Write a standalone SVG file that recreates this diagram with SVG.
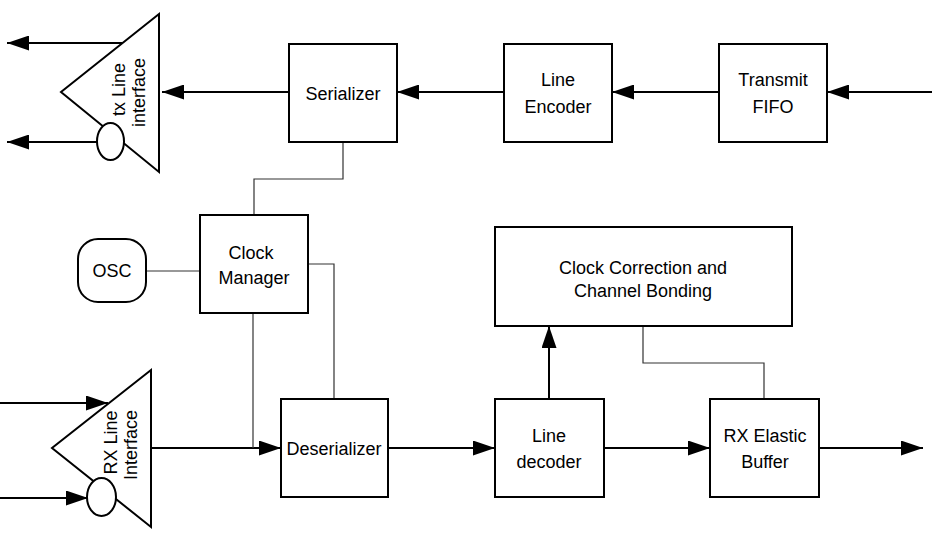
<svg xmlns="http://www.w3.org/2000/svg" width="932" height="534" viewBox="0 0 932 534">
<style>
.box{fill:#fff;stroke:#000;stroke-width:2}
.tri{fill:#fff;stroke:#000;stroke-width:2;stroke-linejoin:miter}
.arr{fill:none;stroke:#000;stroke-width:2;marker-end:url(#ah)}
.thin{fill:none;stroke:#333;stroke-width:1.2}
text{font-family:"Liberation Sans",Arial,sans-serif;font-size:18px;fill:#000;text-anchor:middle}
</style>
<defs>
<marker id="ah" markerUnits="userSpaceOnUse" markerWidth="22" markerHeight="15" refX="22" refY="7.5" orient="auto">
<path d="M0,0 L22,7.5 L0,15 z" fill="#000"/>
</marker>
</defs>
<rect width="932" height="534" fill="#fff"/>
<g id="connectors">
<line class="arr" x1="932" y1="92" x2="827" y2="92"/>
<line class="arr" x1="719" y1="92" x2="612" y2="92"/>
<line class="arr" x1="504" y1="92" x2="397" y2="92"/>
<line class="arr" x1="289" y1="92" x2="162" y2="92"/>
<line class="arr" x1="122" y1="43" x2="7" y2="43"/>
<line class="arr" x1="97" y1="142" x2="7" y2="142"/>
<line class="arr" x1="0" y1="403" x2="108" y2="403"/>
<line class="arr" x1="0" y1="498" x2="88" y2="498"/>
<line class="arr" x1="151" y1="448" x2="281" y2="448"/>
<line class="arr" x1="388" y1="448" x2="495" y2="448"/>
<line class="arr" x1="604" y1="448" x2="710" y2="448"/>
<line class="arr" x1="819" y1="448" x2="923" y2="448"/>
<line class="arr" x1="549" y1="399" x2="549" y2="326"/>
<polyline class="thin" points="343,142 343,179 254,179 254,215"/>
<line class="thin" x1="146" y1="271" x2="200" y2="271"/>
<polyline class="thin" points="308,264 334,264 334,399"/>
<line class="thin" x1="253" y1="313" x2="253" y2="448"/>
<polyline class="thin" points="643,326 643,363 764,363 764,399"/>
</g>
<g id="tx-line-interface">
<polygon class="tri" points="159,14 61,92 159,172"/>
<ellipse class="box" cx="110.5" cy="141.5" rx="13.5" ry="18.5"/>
<text transform="translate(125,89.5) rotate(-90)">tx Line</text>
<text transform="translate(145,92.5) rotate(-90)">interface</text>
</g>
<g id="serializer">
<rect class="box" x="289" y="44" width="108" height="98"/>
<text x="343" y="100">Serializer</text>
</g>
<g id="line-encoder">
<rect class="box" x="504" y="44" width="108" height="98"/>
<text x="558" y="86">Line</text>
<text x="558" y="113">Encoder</text>
</g>
<g id="transmit-fifo">
<rect class="box" x="719" y="44" width="108" height="98"/>
<text x="773" y="86">Transmit</text>
<text x="773" y="113">FIFO</text>
</g>
<g id="osc">
<rect class="box" x="78" y="239" width="68" height="63" rx="20" ry="20"/>
<text x="112" y="277">OSC</text>
</g>
<g id="clock-manager">
<rect class="box" x="200" y="215" width="108" height="98"/>
<text x="251" y="259">Clock</text>
<text x="254" y="284">Manager</text>
</g>
<g id="clock-correction">
<rect class="box" x="495" y="227" width="297" height="99"/>
<text x="643" y="274">Clock Correction and</text>
<text x="643" y="297">Channel Bonding</text>
</g>
<g id="rx-line-interface">
<polygon class="tri" points="151,370 52,448 151,527"/>
<ellipse class="box" cx="101.5" cy="497" rx="14.5" ry="19"/>
<text transform="translate(117,442.5) rotate(-90)">RX Line</text>
<text transform="translate(137,445) rotate(-90)">Interface</text>
</g>
<g id="deserializer">
<rect class="box" x="281" y="399" width="107" height="98"/>
<text x="334" y="455">Deserializer</text>
</g>
<g id="line-decoder">
<rect class="box" x="495" y="399" width="109" height="98"/>
<text x="549" y="442">Line</text>
<text x="549" y="468">decoder</text>
</g>
<g id="rx-elastic-buffer">
<rect class="box" x="710" y="399" width="109" height="98"/>
<text x="765" y="442">RX Elastic</text>
<text x="765" y="468">Buffer</text>
</g>
</svg>
